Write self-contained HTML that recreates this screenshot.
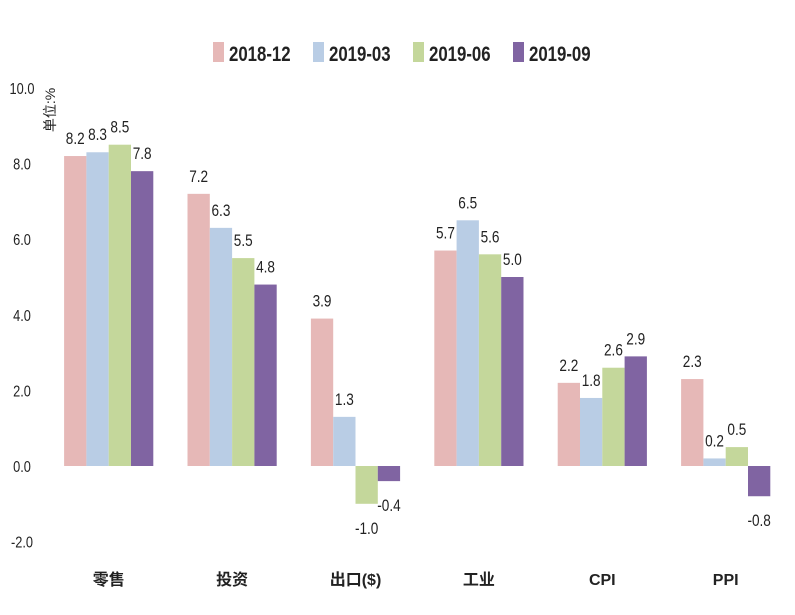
<!DOCTYPE html>
<html><head><meta charset="utf-8"><style>
body{margin:0;background:#fff;}
svg text{font-family:"Liberation Sans","Noto Sans CJK SC",sans-serif;fill:#222;}
</style></head><body>
<svg width="795" height="610" id="c">
<g id="legend"></g>
<g id="axis"></g>
<g id="bars"></g>
<text transform="translate(55,110) rotate(-90)" text-anchor="middle" font-size="14" fill="#444">单位:%</text>
</svg>
<script>
const categories=["零售","投资","出口($)","工业","CPI","PPI"];
const seriesNames=["2018-12","2019-03","2019-06","2019-09"];
const s1=[8.2,7.2,3.9,5.7,2.2,2.3];
const s2=[8.3,6.3,1.3,6.5,1.8,0.2];
const s3=[8.5,5.5,-1.0,5.6,2.6,0.5];
const s4=[7.8,4.8,-0.4,5.0,2.9,-0.8];
const ticks=[-2,0,2,4,6,8,10];
const series=[s1,s2,s3,s4];
const colors=["#e6b8b7","#b9cde5","#c4d79b","#8064a2"];
const NS="http://www.w3.org/2000/svg";
function mk(t,a,p){const e=document.createElementNS(NS,t);for(const k in a)e.setAttribute(k,a[k]);p.appendChild(e);return e;}
const y=v=>466-v*37.8;
const x0=47,cw=123.4,bw=22.3;
const axis=document.getElementById('axis'),bars=document.getElementById('bars'),leg=document.getElementById('legend');
ticks.forEach(t=>{const e=mk('text',{x:22,y:y(t)+6,'text-anchor':'middle','font-size':16,transform:`translate(22,0) scale(0.8,1) translate(-22,0)`},axis);


e.textContent=t.toFixed(1);});
categories.forEach((c,i)=>{const cx=x0+cw*i+cw/2;
const e=mk('text',{x:cx,y:585,'text-anchor':'middle','font-size':16,'font-weight':'bold'},axis);


e.textContent=c;
series.forEach((s,j)=>{const v=s[i];const bx=cx-2*bw+j*bw;
const r=mk('rect',{x:bx,y:Math.min(y(v),y(0)),width:bw,height:Math.abs(y(v)-y(0)),fill:colors[j]},bars);


const ly=v>=0?y(v)-12:y(v)+30;
const t=mk('text',{x:bx+bw/2,y:ly,'text-anchor':'middle','font-size':17,transform:`translate(${bx+bw/2},0) scale(0.8,1) translate(${-(bx+bw/2)},0)`},bars);


t.textContent=v.toFixed(1);});});
seriesNames.forEach((n,j)=>{const lx=213+j*100;
const r=mk('rect',{x:lx,y:42,width:11,height:20,fill:colors[j]},leg);


const t=mk('text',{x:lx+16,y:61,'font-size':21,'font-weight':'bold',transform:`translate(${lx+16},0) scale(0.8,1) translate(${-(lx+16)},0)`},leg);


t.textContent=n;});
</script>
</body></html>
